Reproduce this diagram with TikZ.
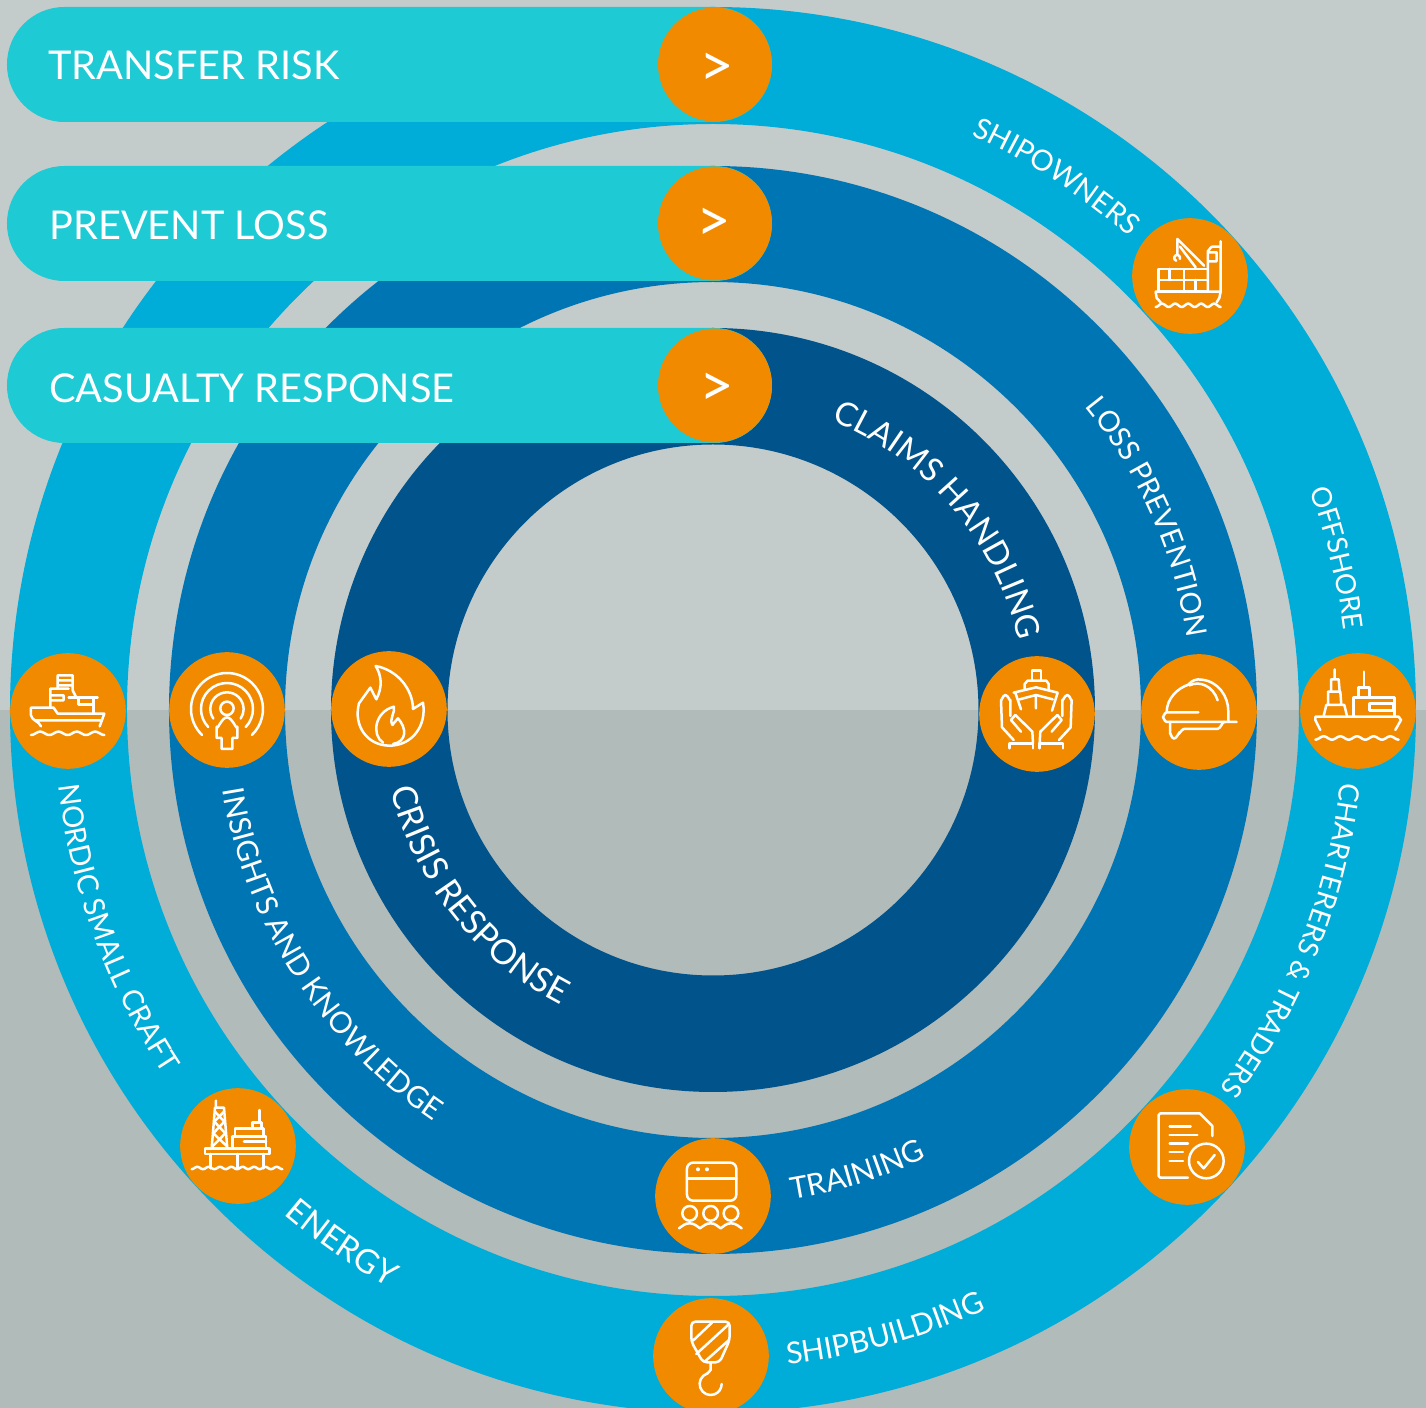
\documentclass[tikz,border=0pt]{standalone}
\usepackage{fontspec}
\setmainfont{Lato}
\usetikzlibrary{decorations.text}
\definecolor{bgtop}{HTML}{C4CCCB}
\definecolor{bgbot}{HTML}{B1BBBA}
\definecolor{ringa}{HTML}{00ADD8}
\definecolor{ringb}{HTML}{0075B4}
\definecolor{ringc}{HTML}{00538B}
\definecolor{bannercol}{HTML}{1ECAD3}
\definecolor{orangecol}{HTML}{F28A00}
\newcommand{\ringlabel}[5]{%
  \pgfmathsetmacro\lblsa{#2+(#2>#3?1:-1)*8}%
  \pgfmathsetmacro\lblsb{#3-(#2>#3?1:-1)*8}%
  \path[decorate,decoration={text along path,text color=white,text={|\fontsize{#4}{#4}\selectfont|#5},text align=center}] (\lblsa:#1) arc[start angle=\lblsa,end angle=\lblsb,radius=#1];}
\newcommand{\ringband}[3]{\fill[#1,even odd rule] (0,0) circle[radius=#2] (0,0) circle[radius=#3];}
\newcommand{\wavy}[5]{\draw plot[domain=#1:#2,samples=90,smooth] (\x,{#3+#5*cos((\x-#1)/(#2-#1)*360*#4)});}
\tikzset{
  iconcircle/.style={circle,fill=orangecol,inner sep=0pt,minimum size=57.8pt},
  banner/.style={rectangle,fill=bannercol,rounded corners=28.7pt,minimum width=382.5pt,minimum height=57.5pt,inner sep=0pt},
  bannertext/.style={text=white,inner sep=0pt,anchor=west,font=\fontsize{19.85}{19.85}\selectfont},
  chevron/.style={text=white,inner sep=0pt,font=\fontsize{30}{30}\selectfont},
  icon/.style n args={4}{shift={(#1-713,710-#2)},xscale=0.3333,yscale=-0.3333,shift={(-#3,-#4)},draw=white,line width=1.25pt,line cap=round,line join=round},
}
\begin{document}
\begin{tikzpicture}[x=0.5pt,y=0.5pt]
\useasboundingbox (-713,-698) rectangle (713,710);
\fill[bgtop] (-713,0) rectangle (713,710);
\fill[bgbot] (-713,-698) rectangle (713,0);
\begin{scope}
\clip (-713,-698) rectangle (713,710);
\ringband{ringa}{703}{586}
\ringband{ringb}{544}{428}
\ringband{ringc}{382}{265.5}
\end{scope}
% banners
\node[banner] (bannerA) at (-323.5,645.5) {};
\node[banner] (bannerB) at (-323.5,486.5) {};
\node[banner] (bannerC) at (-323.5,324.5) {};
\node[bannertext] (textA) at (-665,645) {TRANSFER RISK};
\node[bannertext] (textB) at (-664,485) {PREVENT LOSS};
\node[bannertext] (textC) at (-664,322) {CASUALTY RESPONSE};
\node[iconcircle,minimum size=57pt] (btnA) at (2,645.5) {};
\node[iconcircle,minimum size=57pt] (btnB) at (2,486.5) {};
\node[iconcircle,minimum size=57pt] (btnC) at (2,324.5) {};
\node[chevron] (chevA) at (4,640) {>};
\node[chevron] (chevB) at (1,485) {>};
\node[chevron] (chevC) at (4,320) {>};
% icon discs
\node[iconcircle] (shipowners) at (477,434) {};
\node[iconcircle] (offshore) at (645,-1) {};
\node[iconcircle] (loss) at (486,-2) {};
\node[iconcircle] (claims) at (324,-4) {};
\node[iconcircle] (crisis) at (-324,1) {};
\node[iconcircle] (insights) at (-486,0) {};
\node[iconcircle] (nordic) at (-645,-1) {};
\node[iconcircle] (energy) at (-475,-436) {};
\node[iconcircle] (charterers) at (474,-437) {};
\node[iconcircle] (training) at (0,-486) {};
\node[iconcircle] (shipbuilding) at (-2,-646) {};
% ring labels
\ringlabel{630}{66}{48.5}{14.4}{SHIPOWNERS}
\ringlabel{636}{19.9}{7.5}{13.8}{OFFSHORE}
\ringlabel{632}{-7.3}{-36.05}{14}{CHARTERERS {\&} TRADERS}
\ringlabel{659}{-83.3}{-65.7}{15}{SHIPBUILDING}
\ringlabel{662}{229.7}{240.6}{16.5}{ENERGY}
\ringlabel{659}{186.9}{213.2}{14.5}{NORDIC SMALL CRAFT}
\ringlabel{480}{38.6}{9.2}{14.4}{LOSS PREVENTION}
\ringlabel{496}{-80.6}{-64.7}{15}{TRAINING}
\ringlabel{497}{189.4}{235.6}{14.8}{INSIGHTS AND KNOWLEDGE}
\ringlabel{313}{67.2}{13.3}{16.5}{CLAIMS HANDLING}
\ringlabel{332}{193.6}{243}{17.2}{CRISIS RESPONSE}
% shipowners icon
\begin{scope}[icon={1190}{276}{208}{196}]
\draw (105,243)--(300,243) (105,243)--(108,262)--(120,275) (300,243)--(296,262)--(288,275);
\wavy{105}{300}{284}{5}{5}
\draw (262,243)--(113,243)--(113,175)--(262,175) (113,208)--(262,208) (147,175)--(147,208) (190,175)--(190,243) (225,208)--(225,243);
\draw (262,243)--(262,120) to[out=90,in=180] (275,108)--(300,108) (300,92)--(300,243) (262,152)--(288,152)--(288,125)--(262,125);
\draw (170,85)--(250,165) (170,85)--(170,130) (178,108)--(225,170);
\draw (178,145) arc[start angle=20,end angle=-250,radius=9];
\end{scope}
% offshore icon
\begin{scope}[icon={1358}{711}{1163}{213}]
\draw (1050,270)--(1035,240)--(1035,230)--(1285,230)--(1292,240)--(1275,270);
\wavy{1035}{1285}{294}{5}{5}
\draw (1060,228)--(1068,195)--(1122,195)--(1130,228) (1073,195)--(1073,155)--(1110,155)--(1113,195) (1082,155)--(1082,118)--(1105,118)--(1108,155) (1093,88)--(1093,118);
\draw (1150,228)--(1150,172)--(1272,172)--(1272,228) (1165,172)--(1165,143)--(1198,143)--(1198,172) (1181,95)--(1181,143);
\draw (1197,190)--(1268,190)--(1268,212)--(1197,212)--cycle;
\end{scope}
% hard hat icon
\begin{scope}[icon={1199}{712}{687}{217}]
\draw (685,218)--(590,218) to[out=180,in=90] (578,232) to[out=-90,in=180] (590,247)--(800,247);
\draw (590,218) .. controls (590,175) and (625,145) .. (655,135) .. controls (665,122) and (680,117) .. (695,120) .. controls (745,125) and (775,170) .. (775,215) -- (775,247);
\draw (658,137) .. controls (690,122) and (730,140) .. (743,182);
\draw (600,247)--(600,282) to[out=-90,in=180] (612,297) to[out=0,in=-90] (628,282)--(628,278) to[out=90,in=180] (642,268)--(742,268) to[out=0,in=-120] (765,248);
\end{scope}
% hands icon
\begin{scope}[icon={1037}{714}{200}{222}]
\draw (185,122)--(185,92)--(212,92)--(212,122);
\draw (163,150)--(163,132)--(172,122)--(228,122)--(235,132)--(235,150);
\draw (130,158)--(197,142)--(262,158) (148,178)--(197,165)--(247,178) (135,158)--(152,208) (262,158)--(245,212) (197,165)--(197,205);
\foreach \m in {1,-1}{
\begin{scope}[shift={(198,0)},xscale=\m,shift={(-198,0)}]
\draw (118,325)--(118,310)--(188,310)--(188,325);
\draw (130,300)--(95,262)--(92,180) to[out=90,in=180] (105,165) to[out=0,in=90] (120,180)--(120,228);
\draw (188,310)--(186,275)--(135,225);
\draw (135,225)--(122,240)--(152,275);
\end{scope}}
\end{scope}
% flame icon
\begin{scope}[icon={389}{709}{1168}{207}]
\draw (1128,78) .. controls (1195,90) and (1240,150) .. (1240,207)--(1270,188) .. controls (1282,260) and (1235,317) .. (1170,317) .. controls (1105,317) and (1060,260) .. (1078,190)--(1112,143)--(1130,178) .. controls (1150,140) and (1145,105) .. (1128,78)--cycle;
\draw (1183,200) .. controls (1188,215) and (1168,235) .. (1178,255)--(1195,235) .. controls (1222,265) and (1222,305) .. (1180,312) (1150,308) .. controls (1115,285) and (1125,215) .. (1183,200);
\end{scope}
% insights icon
\begin{scope}[icon={227}{710}{681}{208}]
\draw (681,203) circle[radius=20];
\draw (665,325)--(697,325)--(697,292)--(712,292)--(712,258) to[out=90,in=0] (681,230) to[out=180,in=90] (650,258)--(650,292)--(665,292)--cycle;
\draw ([shift={(134:108)}]681,205) arc[start angle=134,end angle=406,radius=108];
\draw ([shift={(136:78)}]681,205) arc[start angle=136,end angle=404,radius=78];
\draw ([shift={(145:50)}]681,205) arc[start angle=145,end angle=395,radius=50];
\end{scope}
% nordic icon
\begin{scope}[icon={68}{711}{203}{212}]
\draw (122,258) to[out=-110,in=80] (92,225)--(92,202)--(160,202)--(172,220)--(312,220)--(298,258) (104,240)--(305,240);
\wavy{92}{312}{279}{4}{5}
\draw (150,200)--(150,145)--(205,145) (172,145)--(172,105)--(217,105)--(217,150)--(228,172) (172,120)--(217,120) (172,135)--(217,135) (150,165)--(190,165)--(190,180)--(150,180);
\draw (205,172)--(292,172) (235,172)--(235,192)--(280,192)--(280,172) (280,192)--(280,220);
\end{scope}
% energy icon
\begin{scope}[icon={238}{1146}{204}{198}]
\draw (105,205)--(298,205)--(298,222)--(105,222)--cycle;
\draw (122,222)--(122,265) (202,222)--(202,265) (280,222)--(280,265);
\wavy{65}{337}{264}{8}{3.5}
\draw (125,205)--(135,83)--(162,83)--(172,205) (138,62)--(138,83);
\draw (135,95)--(163,125)--(130,160)--(172,200) (162,95)--(133,125)--(166,160)--(127,200) ;
\draw (188,205)--(188,170)--(288,170)--(288,205) (195,170)--(195,145)--(280,145)--(280,170) (248,145)--(248,128)--(275,128)--(275,145) (268,90)--(268,128) (222,185)--(288,185);
\end{scope}
% document icon
\begin{scope}[icon={1187}{1147}{202}{198}]
\draw (205,290)--(122,290) to[out=180,in=-90] (117,285)--(117,102) to[out=90,in=180] (122,97)--(240,97)--(278,135)--(278,165);
\draw (150,137)--(213,137) (150,162)--(233,162) (150,188)--(205,188) (150,213)--(190,213) (150,240)--(190,240);
\draw (260,240) circle[radius=52];
\draw (235,243)--(252,262)--(285,222);
\end{scope}
% training icon
\begin{scope}[icon={713}{1196}{220}{198}]
\draw[rounded corners=3pt] (142,98) rectangle (290,212);
\draw (142,145)--(290,145);
\fill[white,draw=none] (175,118) circle[radius=6] (202,118) circle[radius=6];
\draw (150,250) circle[radius=22] (213,250) circle[radius=22] (274,250) circle[radius=22];
\draw (118,295) to[out=-35,in=180] (150,280) to[out=0,in=215] (181,295) to[out=-35,in=180] (213,280) to[out=0,in=215] (243,295) to[out=-35,in=180] (274,280) to[out=0,in=215] (306,295);
\end{scope}
% hook icon
\begin{scope}[icon={711}{1356}{214}{678}]
\draw[rounded corners=2pt] (155,575)--(270,575)--(270,630)--(240,697)--(190,697)--(155,635)--cycle;
\draw (160,632)--(217,578) (170,672)--(265,585) (195,695)--(268,630);
\draw (213,697)--(213,720)--(202,732);
\draw ([shift={(250:33)}]213,762) arc[start angle=250,end angle=0,radius=33];
\end{scope}
\end{tikzpicture}
\end{document}
